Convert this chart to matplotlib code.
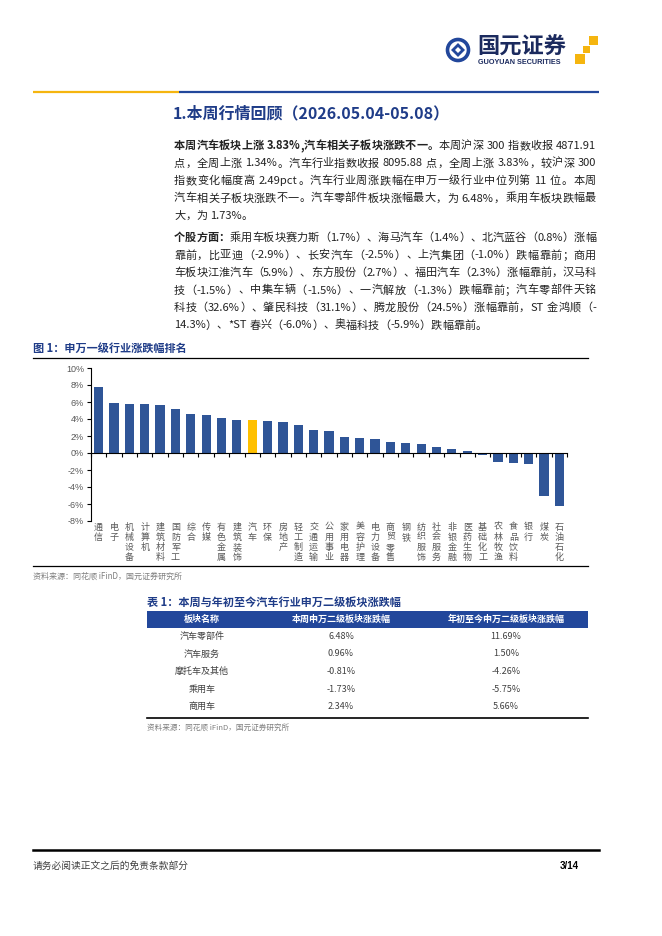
import re
import matplotlib
matplotlib.use("Agg")
import matplotlib.pyplot as plt
from matplotlib.patches import Rectangle, Circle, Polygon
from matplotlib.transforms import blended_transform_factory

plt.rcParams['font.family'] = ['Noto Sans CJK SC', 'DejaVu Sans']

# chart: 申万一级行业本周涨跌幅 (%)
industries = ['通信', '电子', '机械设备', '计算机', '建筑材料', '国防军工', '综合', '传媒',
              '有色金属', '建筑装饰', '汽车', '环保', '房地产', '轻工制造', '交通运输', '公用事业',
              '家用电器', '美容护理', '电力设备', '商贸零售', '钢铁', '纺织服饰', '社会服务', '非银金融',
              '医药生物', '基础化工', '农林牧渔', '食品饮料', '银行', '煤炭', '石油石化']
weekly_chg = [7.8, 5.9, 5.8, 5.8, 5.7, 5.2, 4.6, 4.5, 4.1, 3.85, 3.83, 3.78, 3.7, 3.3, 2.65, 2.6,
              1.85, 1.8, 1.7, 1.3, 1.12, 1.1, 0.75, 0.5, 0.25, -0.2, -1.0, -1.15, -1.25, -5.0, -6.2]
highlight = '汽车'
yticks = list(range(-8, 11, 2))

# table: 汽车行业申万二级板块
table_cols = ['板块名称', '本周申万二级板块涨跌幅', '年初至今申万二级板块涨跌幅']
sectors = ['汽车零部件', '汽车服务', '摩托车及其他', '乘用车', '商用车']
week_pct = [6.48, 0.96, -0.81, -1.73, 2.34]
ytd_pct = [11.69, 1.50, -4.26, -5.75, 5.66]

# body text, line by line as in the page; (text, weight) parts
para1 = [
    [('本周汽车板块上涨 3.83%,汽车相关子板块涨跌不一。', 'bold'), ('本周沪深 300 指数收报 4871.91', 'normal')],
    [('点，全周上涨 1.34%。汽车行业指数收报 8095.88 点，全周上涨 3.83%，较沪深 300', 'normal')],
    [('指数变化幅度高 2.49pct。汽车行业周涨跌幅在申万一级行业中位列第 11 位。本周', 'normal')],
    [('汽车相关子板块涨跌不一。汽车零部件板块涨幅最大，为 6.48%，乘用车板块跌幅最', 'normal')],
    [('大，为 1.73%。', 'normal')],
]
para2 = [
    [('个股方面：', 'bold'), ('乘用车板块赛力斯（1.7%）、海马汽车（1.4%）、北汽蓝谷（0.8%）涨幅', 'normal')],
    [('靠前，比亚迪（-2.9%）、长安汽车（-2.5%）、上汽集团（-1.0%）跌幅靠前；商用', 'normal')],
    [('车板块江淮汽车（5.9%）、东方股份（2.7%）、福田汽车（2.3%）涨幅靠前，汉马科', 'normal')],
    [('技（-1.5%）、中集车辆（-1.5%）、一汽解放（-1.3%）跌幅靠前；汽车零部件天铭', 'normal')],
    [('科技（32.6%）、肇民科技（31.1%）、腾龙股份（24.5%）涨幅靠前，ST 金鸿顺（-', 'normal')],
    [('14.3%）、*ST 春兴（-6.0%）、奥福科技（-5.9%）跌幅靠前。', 'normal')],
]

BLUE = '#22479B'
NAVY = '#1F3C88'
BAR = '#2F5597'
GOLD = '#F5B50F'

W, H = 662, 936
fig = plt.figure(figsize=(W / 100, H / 100), dpi=100)
page = fig.add_axes([0, 0, 1, 1])
page.set_xlim(0, W)
page.set_ylim(H, 0)
page.axis('off')
renderer = fig.canvas.get_renderer()


def text_width(s, **kw):
    t = page.text(0, 0, s, **kw)
    w = t.get_window_extent(renderer).width
    t.remove()
    return w


def draw_line(x0, x1, y, parts, justify=True, size=8):
    toks = []
    for s, wt in parts:
        for tk in re.findall(r'[A-Za-z0-9.%*\-]+| |.', s):
            toks.append((tk, wt))
    widths = [3.0 if tk == ' ' else text_width(tk, fontsize=size, fontweight=wt) for tk, wt in toks]
    gap = (x1 - x0 - sum(widths)) / (len(toks) - 1) if justify else 0.0
    x = x0
    for (tk, wt), w in zip(toks, widths):
        if tk != ' ':
            page.text(x, y, tk, fontsize=size, fontweight=wt, color='#222222',
                      ha='left', va='baseline')
        x += w + gap


# header: logo + rule
page.add_patch(Circle((458, 50), 10.5, fill=False, ec=BLUE, lw=2.6))
page.add_patch(Polygon([(458, 43), (465, 50), (458, 57), (451, 50)], closed=True, fc=BLUE))
page.add_patch(Polygon([(458, 47), (461, 50), (458, 53), (455, 50)], closed=True, fc='white'))
page.text(477, 47, '国元证券', fontsize=16, fontweight='bold', color='#1B2A5E', va='center', ha='left')
page.text(478, 63, 'GUOYUAN SECURITIES', fontsize=5.2, fontweight='bold', color='#1B2A5E',
          va='center', ha='left', family='Liberation Sans')
page.add_patch(Rectangle((589, 36), 9, 9, fc=GOLD, ec='none'))
page.add_patch(Rectangle((583, 46), 7, 7, fc=GOLD, ec='none'))
page.add_patch(Rectangle((575, 54), 10, 10, fc=GOLD, ec='none'))
page.plot([33, 179], [91.5, 91.5], color=GOLD, lw=1.6, solid_capstyle='butt')
page.plot([179, 599], [91.5, 91.5], color=BLUE, lw=1.6, solid_capstyle='butt')

# section title and body text
page.text(173, 113, '1.本周行情回顾（2026.05.04-05.08）', fontsize=11.5, fontweight='bold',
          color=NAVY, va='center', ha='left')
for k, parts in enumerate(para1):
    draw_line(174, 596, 149 + 17.5 * k, parts, justify=k < len(para1) - 1)
for k, parts in enumerate(para2):
    draw_line(174, 596, 241 + 17.5 * k, parts, justify=k < len(para2) - 1)

# figure 1
page.text(33, 348, '图 1：申万一级行业涨跌幅排名', fontsize=8, fontweight='bold', color=NAVY,
          va='center', ha='left')
page.plot([33, 588], [358, 358], color='black', lw=0.9)
page.plot([33, 588], [566, 566], color='black', lw=0.9)
page.text(33, 576, '资料来源：同花顺 iFinD，国元证券研究所', fontsize=5.8, color='#7F7F7F',
          va='center', ha='left')

ax = fig.add_axes([91 / W, 1 - 521 / H, 476 / W, 153 / H])
pos = list(range(len(industries)))
colors = ['#FFC000' if n == highlight else BAR for n in industries]
ax.bar(pos, weekly_chg, width=0.6, color=colors)
ax.set_xlim(-0.5, len(industries) - 0.5)
ax.set_ylim(-8, 10)
ax.set_yticks(yticks)
ax.set_yticklabels([f'{v}%' for v in yticks], fontsize=6.5, color='#595959', family='Liberation Sans')
ax.spines['bottom'].set_position(('data', 0))
ax.spines[['top', 'right']].set_visible(False)
ax.set_xticks([i - 0.5 for i in range(len(industries) + 1)])
ax.tick_params(axis='x', direction='out', length=3, width=0.8, labelbottom=False)
ax.tick_params(axis='y', direction='out', length=3, width=0.8, pad=2)
ax.patch.set_alpha(0)
trans = blended_transform_factory(ax.transData, ax.transAxes)
for i, name in enumerate(industries):
    ax.text(i, -0.01, '\n'.join(name), transform=trans, ha='center', va='top',
            fontsize=6.5, color='#595959', linespacing=1.15)

# table 1
page.text(147, 602, '表 1：本周与年初至今汽车行业申万二级板块涨跌幅', fontsize=8, fontweight='bold',
          color=NAVY, va='center', ha='left')
col_x = [202, 341, 506]
page.add_patch(Rectangle((147, 611), 441, 17, fc=BLUE, ec='none'))
for cx, c in zip(col_x, table_cols):
    page.text(cx, 619.5, c, fontsize=6.5, fontweight='bold', color='white', ha='center', va='center')
for r, (s, a, b) in enumerate(zip(sectors, week_pct, ytd_pct)):
    y = 636.5 + 17.5 * r
    for cx, v in zip(col_x, [s, f'{a:.2f}%', f'{b:.2f}%']):
        page.text(cx, y, v, fontsize=6.5, color='#404040', ha='center', va='center')
page.plot([147, 588], [718, 718], color='black', lw=1.2)
page.text(147, 728, '资料来源：同花顺 iFinD，国元证券研究所', fontsize=5.5, color='#7F7F7F',
          va='center', ha='left')

# footer
page.plot([33, 599], [850, 850], color='black', lw=1.8)
page.text(33, 866, '请务必阅读正文之后的免责条款部分', fontsize=7, color='#404040', va='center', ha='left')
page.text(579, 866, '3/14', fontsize=7, fontweight='bold', family='Liberation Sans',
          va='center', ha='right')

fig.savefig('out.png', dpi=100)
